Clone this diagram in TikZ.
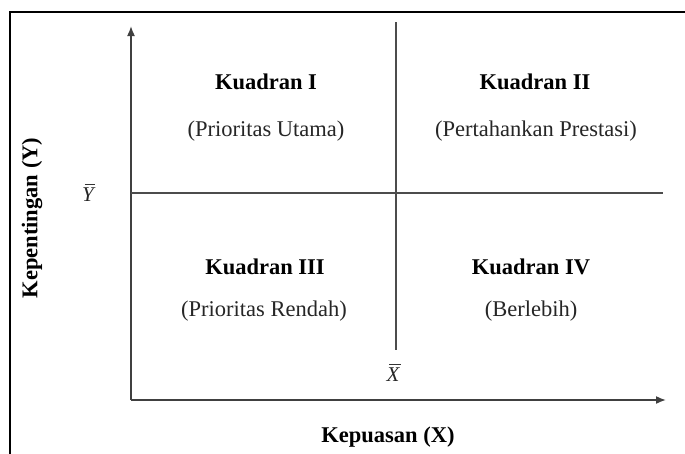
\documentclass[tikz,border=0pt]{standalone}
\usepackage{fontspec}
\setmainfont{Liberation Serif}
\usetikzlibrary{arrows.meta}
\begin{document}
\begin{tikzpicture}[x=1pt,y=-1pt,
  lbl/.style={font=\fontsize{22.5}{26}\selectfont, inner sep=0pt, text=black!85},
  ttl/.style={font=\fontsize{22.5}{26}\selectfont\bfseries, inner sep=0pt},
  meanlbl/.style={font=\fontsize{21}{24}\selectfont\itshape, inner sep=0pt, text=black!85},
  meanbar/.style={line width=0.9pt, draw=black!80},
  axis/.style={line width=1.6pt, draw=black!75, -{Latex[length=10pt,width=8pt]}},
  divider/.style={line width=1.6pt, draw=black!70}]
\useasboundingbox (0,0) rectangle (685,453);
\fill[white] (0,0) rectangle (685,453);
\draw[line width=2pt] (10,454) -- (10,12) -- (686,12);
% axes
\coordinate (O) at (131,400);
\coordinate (ytop) at (131,26);
\coordinate (xend) at (666,400);
\draw[axis] (O) -- (ytop);
\draw[axis] (O) -- (xend);
% dividers
\coordinate (vtop) at (396,22);
\coordinate (vbot) at (396,350);
\coordinate (hl) at (131,193);
\coordinate (hr) at (663,193);
\draw[divider] (vtop) -- (vbot);
\draw[divider] (hl) -- (hr);
% mean labels
\node[meanlbl, anchor=base] (ybar) at (88,201) {Y};
\draw[meanbar] ([xshift=3pt,yshift=2.5pt]ybar.north west) -- ([xshift=1pt,yshift=2.5pt]ybar.north east);
\node[meanlbl, anchor=base] (xbar) at (393,381) {X};
\draw[meanbar] ([xshift=3pt,yshift=2.5pt]xbar.north west) -- ([xshift=1pt,yshift=2.5pt]xbar.north east);
% labels
\node[ttl] (xlab) at (388,437) {Kepuasan (X)};
\node[ttl, rotate=90] (ylab) at (32,218) {Kepentingan (Y)};
\node[ttl] (k1) at (266,82) {Kuadran I};
\node[lbl] (k1s) at (266,131) {(Prioritas Utama)};
\node[ttl] (k2) at (535,82) {Kuadran II};
\node[lbl] (k2s) at (536,131) {(Pertahankan Prestasi)};
\node[ttl] (k3) at (265,267) {Kuadran III};
\node[lbl] (k3s) at (264,311) {(Prioritas Rendah)};
\node[ttl] (k4) at (531,267) {Kuadran IV};
\node[lbl] (k4s) at (531,311) {(Berlebih)};
\end{tikzpicture}
\end{document}
